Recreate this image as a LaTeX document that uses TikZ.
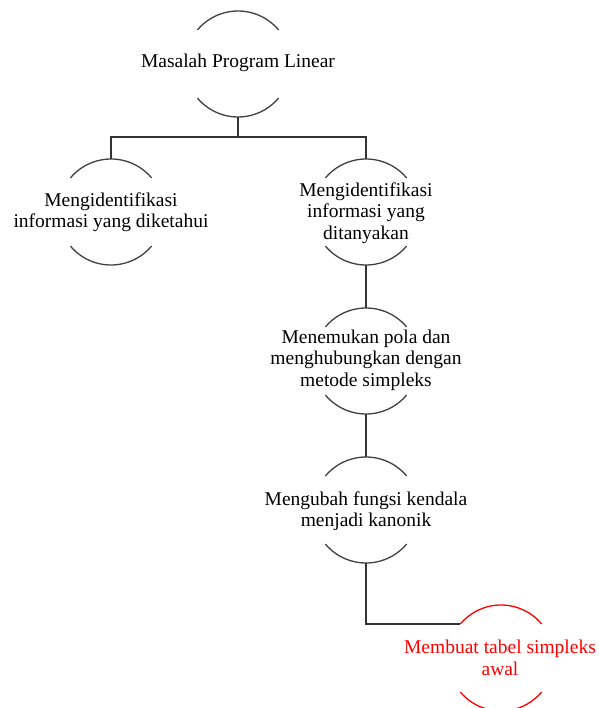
\documentclass[tikz,border=0pt]{standalone}
\usepackage{fontspec}
\setmainfont{Liberation Serif}
\begin{document}
\begin{tikzpicture}[x=1pt,y=1pt,
  ring/.style={circle, minimum size=106pt, inner sep=0pt, outer sep=0pt},
  lbl/.style={align=center, font=\fontsize{19.5}{21.5}\selectfont, inner sep=0pt},
  arcline/.style={draw=black!75, line width=1.3pt},
  link/.style={draw=black!80, line width=1.3pt}]
\useasboundingbox (0,0) rectangle (598,-708);

\node[ring] (c1) at (238,-64) {};
\node[ring] (c2) at (111,-212) {};
\node[ring] (c3) at (366,-212) {};
\node[ring] (c4) at (366,-361) {};
\node[ring] (c5) at (366,-510) {};
\node[ring] (c6) at (501,-658) {};

\node[lbl] (t1) at (238,-63) {Masalah Program Linear};
\node[lbl] (t2) at (111,-212) {Mengidentifikasi\\informasi yang diketahui};
\node[lbl] (t3) at (366,-213) {Mengidentifikasi\\informasi yang\\ditanyakan};
\node[lbl] (t4) at (366,-360) {Menemukan pola dan\\menghubungkan dengan\\metode simpleks};
\node[lbl] (t5) at (366,-511) {Mengubah fungsi kendala\\menjadi kanonik};
\node[lbl, text=red] (t6) at (500,-658) {Membuat tabel simpleks\\awal};

\foreach \c in {c1,c2,c3,c4,c5}{
  \draw[arcline] (\c.40) arc[start angle=40, end angle=140, radius=53pt];
  \draw[arcline] (\c.220) arc[start angle=220, end angle=320, radius=53pt];
}
\draw[arcline, draw=red] (c6.40) arc[start angle=40, end angle=140, radius=53pt];
\draw[arcline, draw=red] (c6.220) arc[start angle=220, end angle=320, radius=53pt];

\coordinate (j) at (238,-137);
\draw[link] (c1.south) -- (j);
\draw[link] (c2.north) |- (j) -| (c3.north);
\draw[link] (c3.south) -- (c4.north);
\draw[link] (c4.south) -- (c5.north);
\draw[link] (c5.south) |- (c6.140);
\end{tikzpicture}
\end{document}
